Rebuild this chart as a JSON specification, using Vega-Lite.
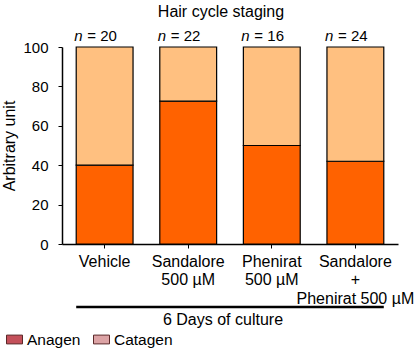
{
  "$schema": "https://vega.github.io/schema/vega-lite/v6.json",
  "autosize": "none",
  "width": 336,
  "height": 197,
  "padding": {"left": 62, "top": 47, "right": 17, "bottom": 110},
  "config": {
    "font": "Liberation Sans",
    "view": {"stroke": null},
    "axis": {"labelFont": "Liberation Sans", "titleFont": "Liberation Sans", "labelColor": "black", "titleColor": "black", "domainColor": "black", "tickColor": "black", "grid": false, "domain": true, "labelFontSize": 15, "titleFontSize": 16, "titleFontWeight": "normal", "labelOverlap": false},
    "axisY": {"labelOverlap": false},
    "legend": {"labelFont": "Liberation Sans", "labelFontSize": 15.5, "labelColor": "black"}
  },
  "title": {"text": "Hair cycle staging", "fontSize": 16, "fontWeight": "normal", "font": "Liberation Sans", "color": "black", "frame": "group", "anchor": "middle", "offset": 9, "dx": -9},
  "datasets": {
    "bars": [
      {"group": "Vehicle", "stage": "Anagen", "value": 40},
      {"group": "Vehicle", "stage": "Catagen", "value": 60},
      {"group": "Sandalore|500 µM", "stage": "Anagen", "value": 72.5},
      {"group": "Sandalore|500 µM", "stage": "Catagen", "value": 27.5},
      {"group": "Phenirat|500 µM", "stage": "Anagen", "value": 50},
      {"group": "Phenirat|500 µM", "stage": "Catagen", "value": 50},
      {"group": "Sandalore|+|Phenirat 500 µM", "stage": "Anagen", "value": 42},
      {"group": "Sandalore|+|Phenirat 500 µM", "stage": "Catagen", "value": 58}
    ],
    "groups": [
      {"group": "Vehicle", "nlab": "= 20"},
      {"group": "Sandalore|500 µM", "nlab": "= 22"},
      {"group": "Phenirat|500 µM", "nlab": "= 16"},
      {"group": "Sandalore|+|Phenirat 500 µM", "nlab": "= 24"}
    ],
    "span": [
      {"from": "Vehicle", "to": "Sandalore|+|Phenirat 500 µM", "y": -32, "ty": -38.5, "label": "6 Days of culture"}
    ],
    "legend": [
      {"leg": "Anagen"},
      {"leg": "Catagen"}
    ]
  },
  "layer": [
    {
      "data": {"name": "bars"},
      "mark": {"type": "bar", "stroke": "black", "strokeWidth": 1.2},
      "encoding": {
        "x": {"field": "group", "type": "nominal", "sort": null,
              "scale": {"paddingInner": 0.32, "paddingOuter": 0.17},
              "axis": {"title": null, "labelAngle": 0, "labelExpr": "split(datum.value, '|')", "labelFontSize": 16, "labelLineHeight": 18.5, "labelPadding": 5, "tickSize": 4, "domainWidth": 1.5, "labelBaseline": "top"}},
        "y": {"field": "value", "type": "quantitative", "stack": "zero",
              "scale": {"domain": [0, 100], "nice": false},
              "axis": {"title": "Arbitrary unit", "values": [0, 20, 40, 60, 80, 100], "labelOverlap": false, "labelFontSize": 15, "tickSize": 4, "labelPadding": 10, "titlePadding": 5, "domainWidth": 1.5}},
        "color": {"field": "stage", "type": "nominal", "scale": {"domain": ["Anagen", "Catagen"], "range": ["#FF6200", "#FFC080"]}, "legend": null},
        "order": {"field": "stage", "sort": "ascending"}
      }
    },
    {
      "data": {"name": "groups"},
      "mark": {"type": "text", "fontSize": 15, "fontStyle": "italic", "align": "left", "baseline": "alphabetic", "dx": -2, "dy": -6, "font": "Liberation Sans"},
      "encoding": {
        "x": {"field": "group", "type": "nominal", "sort": null, "bandPosition": 0},
        "y": {"datum": 100, "type": "quantitative", "axis": {"title": "Arbitrary unit", "values": [0, 20, 40, 60, 80, 100], "labelOverlap": false, "labelFontSize": 15, "tickSize": 4, "labelPadding": 10, "titlePadding": 5, "domainWidth": 1.5}},
        "text": {"value": "n"}
      }
    },
    {
      "data": {"name": "groups"},
      "mark": {"type": "text", "fontSize": 15, "align": "left", "baseline": "alphabetic", "dx": 11, "dy": -6, "font": "Liberation Sans"},
      "encoding": {
        "x": {"field": "group", "type": "nominal", "sort": null, "bandPosition": 0},
        "y": {"datum": 100, "type": "quantitative", "axis": {"title": "Arbitrary unit", "values": [0, 20, 40, 60, 80, 100], "labelOverlap": false, "labelFontSize": 15, "tickSize": 4, "labelPadding": 10, "titlePadding": 5, "domainWidth": 1.5}},
        "text": {"field": "nlab"}
      }
    },
    {
      "data": {"name": "span"},
      "mark": {"type": "rule", "strokeWidth": 2.5, "color": "black"},
      "encoding": {
        "x": {"field": "from", "type": "nominal", "sort": null, "bandPosition": 0},
        "x2": {"field": "to", "bandPosition": 1},
        "y": {"field": "y", "type": "quantitative", "axis": {"title": "Arbitrary unit", "values": [0, 20, 40, 60, 80, 100], "labelOverlap": false, "labelFontSize": 15, "tickSize": 4, "labelPadding": 10, "titlePadding": 5, "domainWidth": 1.5}}
      }
    },
    {
      "data": {"name": "span"},
      "mark": {"type": "text", "fontSize": 16, "baseline": "middle", "align": "center", "font": "Liberation Sans", "dx": -7},
      "encoding": {
        "y": {"field": "ty", "type": "quantitative", "axis": {"title": "Arbitrary unit", "values": [0, 20, 40, 60, 80, 100], "labelOverlap": false, "labelFontSize": 15, "tickSize": 4, "labelPadding": 10, "titlePadding": 5, "domainWidth": 1.5}},
        "text": {"field": "label"}
      }
    },
    {
      "data": {"name": "legend"},
      "mark": {"type": "square", "opacity": 0, "filled": true},
      "encoding": {
        "color": {"field": "leg", "type": "nominal", "scale": {"domain": ["Anagen", "Catagen"], "range": ["#C4505A", "#DCA3A5"]},
                  "legend": {"title": null, "orient": "none", "direction": "horizontal", "legendX": -56, "legendY": 284,
                             "symbolType": "M-1,-0.55L1,-0.55L1,0.55L-1,0.55Z", "symbolSize": 256, "symbolOpacity": 1,
                             "symbolStrokeColor": "#5a2828", "symbolStrokeWidth": 1, "labelOffset": 4, "columnPadding": 10}}
      }
    }
  ],
  "resolve": {"scale": {"color": "independent"}}
}
